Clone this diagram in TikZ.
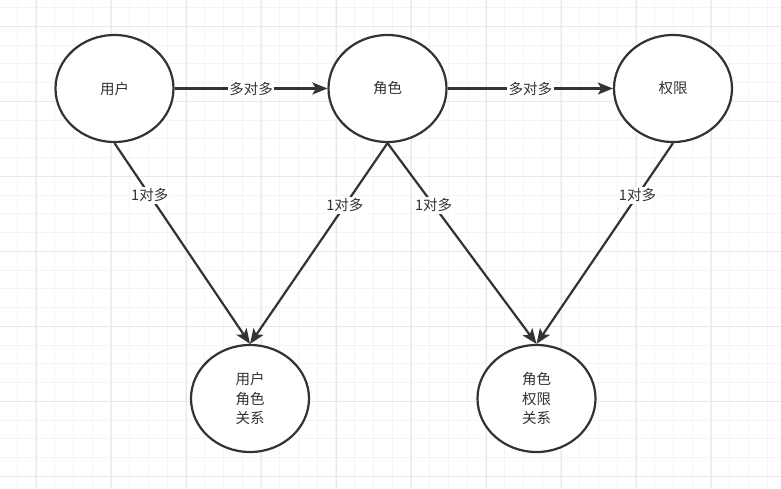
\documentclass[tikz,border=0pt]{standalone}
\usepackage{fontspec}
\newfontfamily\cjk{Noto Sans CJK SC}
\usetikzlibrary{arrows.meta, shapes.geometric}
\definecolor{Ink}{HTML}{333333}
\definecolor{GridMinor}{HTML}{F4F4F4}
\definecolor{GridMajor}{HTML}{E8E8E8}
\tikzset{
    entity/.style={ellipse, draw=Ink, line width=2.2pt, fill=white, text=Ink, minimum width=118pt, minimum height=107pt, inner sep=0pt, align=center, font=\cjk\fontsize{14.5}{19.5}\selectfont},
    rel/.style={-{Stealth[length=15pt, width=12pt, inset=3.5pt]}, line width=2.2pt, color=Ink},
    tag/.style={fill=white, text=Ink, inner sep=1.5pt, font=\cjk\fontsize{14.5}{17}\selectfont},
}
\begin{document}
\begin{tikzpicture}[x=1pt, y=-1pt]
    \useasboundingbox[fill=white] (0,0) rectangle (781,488);

    % Raster
    \foreach \x in {-1.75,17,...,790} \draw[GridMinor, line width=1pt] (\x,0) -- (\x,488);
    \foreach \y in {7.5,26.25,...,495} \draw[GridMinor, line width=1pt] (0,\y) -- (781,\y);
    \foreach \x in {36,111,...,790} \draw[GridMajor, line width=1pt] (\x,0) -- (\x,488);
    \foreach \y in {26.25,101.25,...,495} \draw[GridMajor, line width=1pt] (0,\y) -- (781,\y);

    % Entitaeten
    \node[entity] (user) at (114.5,88.5) {用户};
    \node[entity] (role) at (387.5,88.5) {角色};
    \node[entity] (perm) at (673,88.5) {权限};

    % Beziehungstabellen
    \node[entity] (userrole) at (250,398.5) {用户\\角色\\关系};
    \node[entity] (roleperm) at (536.5,398.5) {角色\\权限\\关系};

    % Viele zu viele
    \draw[rel] (user.east) -- node[tag] {多对多} (role.west);
    \draw[rel] (role.east) -- node[tag] {多对多} (perm.west);

    % Eins zu viele
    \draw[rel] (user.south) -- node[tag, pos=0.26] {1对多} (userrole.north);
    \draw[rel] (role.south) -- node[tag, pos=0.31] {1对多} (userrole.north);
    \draw[rel] (role.south) -- node[tag, pos=0.31] {1对多} (roleperm.north);
    \draw[rel] (perm.south) -- node[tag, pos=0.26] {1对多} (roleperm.north);
\end{tikzpicture}
\end{document}
